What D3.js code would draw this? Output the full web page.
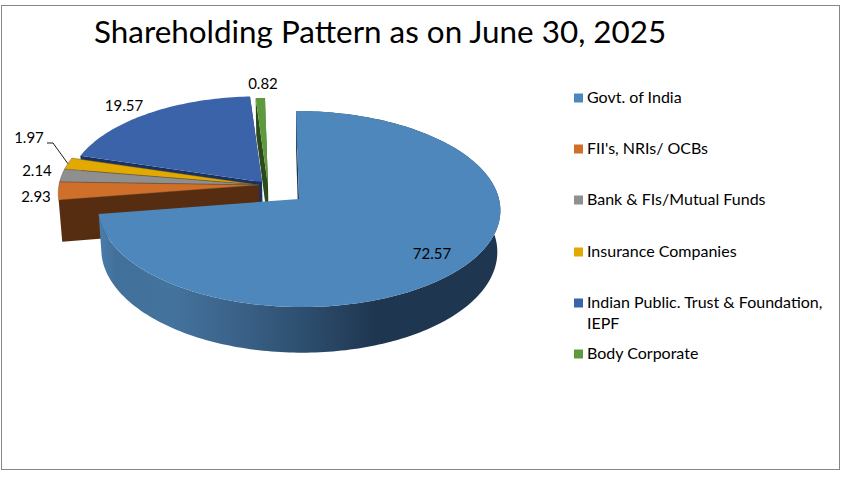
<!DOCTYPE html>
<html>
<head>
<meta charset="utf-8">
<style>
body { margin: 0; background: #fff; }
text { font-family: Lato, "Open Sans", sans-serif; fill: #000; }
</style>
<script src="https://cdn.jsdelivr.net/npm/d3@7"></script>
</head>
<body>
<div id="chart"></div>
<script>
const categories = ["Govt. of India", "FII's, NRIs/ OCBs", "Bank & FIs/Mutual Funds", "Insurance Companies", "Indian Public. Trust & Foundation, IEPF", "Body Corporate"];
const values = [72.57, 2.93, 2.14, 1.97, 19.57, 0.82];
const valueLabels = ["72.57", "2.93", "2.14", "1.97", "19.57", "0.82"];

const topColors = ["#4e87bb", "#d06f2a", "#8f8f8f", "#e2a900", "#3b63a9", "#5e9a3d"];
const wallColors = ["#1f3650", "#562d10", "#562d10", "#562d10", "#1a3260", "#2c4a1c"];

// where each slice's tip sits once pulled out of the pie
const tips = [[299, 199], [259, 185], [259, 185], [259, 185], [262, 182], [268, 186]];
const radiusScale = [1, 1, 1, 1, 0.97, 1];
const labelPos = [[432, 254], [36, 197], [37, 171], [29, 138], [124, 106], [263, 84]];
const legendY = [98, 149, 200, 252, 303, 354];

const width = 847, height = 477;
const rx = 200, ry = 97, tilt = 0.102, depth = 41;

const svg = d3.select("#chart").append("svg")
    .attr("width", width)
    .attr("height", height)
    .style("display", "block");

svg.append("rect")
    .attr("x", 1.5).attr("y", 5.5)
    .attr("width", 838).attr("height", 464)
    .attr("fill", "#fff")
    .attr("stroke", "#868686");

svg.append("text")
    .attr("x", 94).attr("y", 43)
    .attr("font-size", 31.4)
    .text("Shareholding Pattern as on June 30, 2025");

const arcs = d3.pie().value(d => d).sort(null)(values);

// flat pie angle -> screen, with a bit of perspective towards the viewer
function project(i, a, r) {
    const u = Math.sin(a) * r * radiusScale[i], v = -Math.cos(a) * r * radiusScale[i];
    const s = 1 / (1 - tilt * v);
    return {
        x: tips[i][0] + rx * u * s + 3 * v,
        y: tips[i][1] + ry * v * s,
        s: s
    };
}

function lower(p) {
    return [297 + (p.x - 297) * 0.985, p.y + depth * p.s];
}

function rim(i, d) {
    const n = Math.max(2, Math.ceil((d.endAngle - d.startAngle) / 0.02));
    return d3.range(n + 1).map(k => project(i, d.startAngle + (d.endAngle - d.startAngle) * k / n, 1));
}

const line = d3.line().curve(d3.curveLinear);

function topPath(i, d) {
    const tip = project(i, 0, 0);
    return line([[tip.x, tip.y]].concat(rim(i, d).map(p => [p.x, p.y]))) + "Z";
}

function edgeWall(i, angle) {
    const a = project(i, angle, 1), b = project(i, angle, 0);
    return line([[a.x, a.y], [b.x, b.y], lower(b), lower(a)]) + "Z";
}

const defs = svg.append("defs");
const grad = defs.append("linearGradient")
    .attr("id", "rimFill")
    .attr("gradientUnits", "userSpaceOnUse")
    .attr("x1", 100).attr("x2", 500).attr("y1", 0).attr("y2", 0);
[[0, "#4a7dab"], [0.04, "#41709b"], [0.18, "#44739d"], [0.35, "#3a6188"],
 [0.5, "#2e5070"], [0.69, "#1f3650"], [1, "#1f3650"]].forEach(s => {
    grad.append("stop").attr("offset", s[0]).attr("stop-color", s[1]);
});

const pie = svg.append("g");

function drawWalls(i) {
    const d = arcs[i];
    pie.append("path").attr("d", edgeWall(i, d.startAngle)).attr("fill", wallColors[i]);
    pie.append("path").attr("d", edgeWall(i, d.endAngle)).attr("fill", wallColors[i]);
}

function drawTop(i) {
    pie.append("path").attr("d", topPath(i, arcs[i])).attr("fill", topColors[i]);
}

// back to front
drawWalls(5);
drawTop(5);
drawWalls(4);
drawTop(4);
drawWalls(1);
[3, 2, 1].forEach(i => {
    pie.append("path").attr("d", topPath(i, arcs[i]))
        .attr("fill", topColors[i])
        .attr("stroke", "#5a4a30")
        .attr("stroke-width", 0.4);
});

// big slice, outer wall then the wall at 12 o'clock then top
const bigRim = rim(0, arcs[0]);
pie.append("path").attr("d", edgeWall(0, arcs[0].startAngle)).attr("fill", wallColors[0]);
pie.append("path")
    .attr("d", line(bigRim.map(p => [p.x, p.y]).concat(bigRim.slice().reverse().map(lower))) + "Z")
    .attr("fill", "url(#rimFill)");
drawTop(0);

// leader line for the small insurance slice
const leaderEnd = project(3, (arcs[3].startAngle + arcs[3].endAngle) / 2, 1);
pie.append("path")
    .attr("d", line([[47, 143], [53, 143], [leaderEnd.x, leaderEnd.y]]))
    .attr("fill", "none")
    .attr("stroke", "#000")
    .attr("stroke-width", 0.9);

svg.append("g").selectAll("text")
    .data(valueLabels)
    .enter()
    .append("text")
    .attr("x", (d, i) => labelPos[i][0])
    .attr("y", (d, i) => labelPos[i][1] + 5)
    .attr("text-anchor", "middle")
    .attr("font-size", 15)
    .text(d => d);

const legend = svg.append("g").selectAll("g")
    .data(categories)
    .enter()
    .append("g")
    .attr("transform", (d, i) => "translate(574," + legendY[i] + ")");

legend.append("rect")
    .attr("y", -4.5)
    .attr("width", 9).attr("height", 9)
    .attr("fill", (d, i) => topColors[i]);

legend.append("text")
    .attr("y", 5)
    .attr("font-size", 16)
    .each(function (d) {
        // long name wraps onto a second line
        const parts = d.indexOf("IEPF") > 0 ? [d.replace(" IEPF", ""), "IEPF"] : [d];
        d3.select(this).selectAll("tspan")
            .data(parts)
            .enter()
            .append("tspan")
            .attr("x", 13)
            .attr("dy", (p, k) => k ? 21 : 0)
            .text(p => p);
    });
</script>
</body>
</html>
